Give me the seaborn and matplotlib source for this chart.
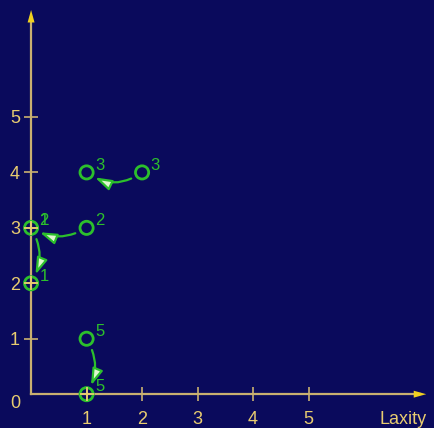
import numpy as np
import pandas as pd
import seaborn as sns
import matplotlib.pyplot as plt

# states (laxity, remaining) with job labels
px = [1, 2, 1, 0, 0, 1, 1]
py = [4, 4, 3, 3, 2, 1, 0]
labels = ['3', '3', '2', '2', '1', '5', '5']
crossed = [False, False, False, True, True, False, True]
# transitions: (from_x, from_y, to_x, to_y, curvature)
moves = [(2, 4, 1, 4, -0.35), (1, 3, 0, 3, -0.3), (0, 3, 0, 2, -0.3), (1, 1, 1, 0, -0.3)]
ticks = [1, 2, 3, 4, 5]

bg = '#0a0a5c'
axc = '#c9b070'
txt = '#e8cc70'
grn = '#2cc02c'

sns.set_style('dark')
plt.rcParams['font.family'] = ['Liberation Sans', 'DejaVu Sans']

df = pd.DataFrame({'x': px, 'y': py, 'lab': labels, 'cross': crossed})

fig = plt.figure(figsize=(4.34, 4.28), dpi=100, facecolor=bg)
ax = fig.add_axes([0, 0, 1, 1])
ax.set_facecolor(bg)

sns.scatterplot(data=df, x='x', y='y', ax=ax, marker='o', s=90,
                facecolors='none', edgecolor=grn, linewidth=2, zorder=5)
sns.scatterplot(data=df[df.cross], x='x', y='y', ax=ax, marker='+', s=90,
                color=txt, linewidth=1.3, zorder=6)

for x, y, l in zip(px, py, labels):
    ax.annotate(l, (x, y), xytext=(6, 2), textcoords='offset points',
                color=grn, fontsize=12, zorder=7)
ax.annotate('1', (0, 3), xytext=(6, 2), textcoords='offset points',
            color=grn, fontsize=12, zorder=7)

for x0, y0, x1, y1, r in moves:
    ax.annotate('', xy=(x1, y1), xytext=(x0, y0),
                arrowprops=dict(arrowstyle='-|>,head_length=1.0,head_width=0.32',
                                ec=grn, fc='#e0f8d0', lw=1.6, shrinkA=9, shrinkB=7,
                                connectionstyle=f'arc3,rad={r}'),
                zorder=4)

ax.set_xlim(-0.56, 7.26)
ax.set_ylim(-0.61, 7.11)

for s in ['top', 'right']:
    ax.spines[s].set_visible(False)
ax.spines['bottom'].set_position(('data', 0))
ax.spines['left'].set_position(('data', 0))
ax.spines['bottom'].set_bounds(0, 7.0)
ax.spines['left'].set_bounds(0, 6.8)
for s in ['bottom', 'left']:
    ax.spines[s].set_color(axc)
    ax.spines[s].set_linewidth(1.6)
    ax.spines[s].set_visible(True)

ax.annotate('', xy=(7.12, 0), xytext=(6.8, 0),
            arrowprops=dict(arrowstyle='-|>,head_length=0.9,head_width=0.25',
                            color='#f0d020', lw=0, shrinkA=0, shrinkB=0))
ax.annotate('', xy=(0, 6.93), xytext=(0, 6.6),
            arrowprops=dict(arrowstyle='-|>,head_length=0.9,head_width=0.25',
                            color='#f0d020', lw=0, shrinkA=0, shrinkB=0))

ax.set_xticks(ticks)
ax.set_yticks(ticks)
ax.set_xticklabels([str(t) for t in ticks])
ax.set_yticklabels([str(t) for t in ticks])
ax.tick_params(axis='both', direction='inout', length=10, width=1.2, color=axc,
               labelcolor=txt, labelsize=13, bottom=True, left=True)
ax.tick_params(axis='x', pad=7)
ax.tick_params(axis='y', pad=3)
ax.grid(False)
ax.set_xlabel('')
ax.set_ylabel('')

ax.text(-0.28, -0.16, '0', color=txt, fontsize=13, ha='center', va='center')
ax.text(6.7, -0.45, 'Laxity', color=txt, fontsize=13, ha='center', va='center')

fig.savefig('out.png', dpi=100, facecolor=bg)
